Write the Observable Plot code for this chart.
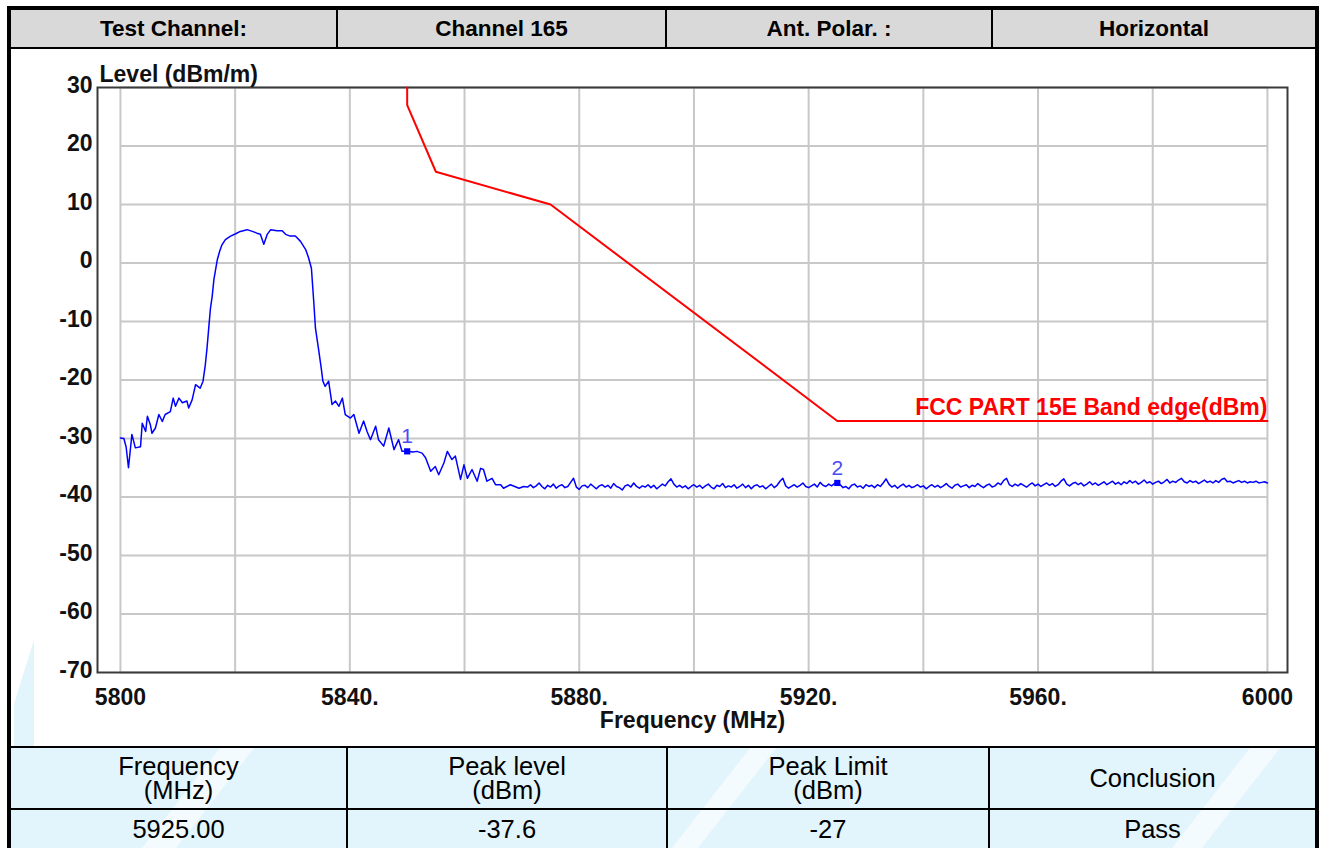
<!DOCTYPE html>
<html>
<head>
<meta charset="utf-8">
<script src="https://cdn.jsdelivr.net/npm/d3@7"></script>
<script src="https://cdn.jsdelivr.net/npm/@observablehq/plot@0.6"></script>
<style>
html,body{margin:0;padding:0;background:#fff}
body{position:relative;width:1325px;height:848px;overflow:hidden;font-family:"Liberation Sans",Arial,Helvetica,sans-serif;color:#000}
.a{position:absolute;box-sizing:border-box}
.cell{display:flex;align-items:center;justify-content:center;text-align:center;white-space:pre-line}
.hd{font-weight:bold;font-size:22.5px}
.bt{font-size:25.5px;line-height:24px}
.k{background:#000}
#chart{position:absolute;left:11px;top:49px}
#chart text{font-family:"Liberation Sans",Arial,sans-serif}
</style>
</head>
<body>
<script>
// ---------- data ----------
const headerCells = ["Test Channel:", "Channel 165", "Ant. Polar. :", "Horizontal"];
const resultHead = ["Frequency\n(MHz)", "Peak level\n(dBm)", "Peak Limit\n(dBm)", "Conclusion"];
const resultRow = ["5925.00", "-37.6", "-27", "Pass"];

const xTicks = [5800, 5840, 5880, 5920, 5960, 6000];
const xTickLabels = ["5800", "5840.", "5880.", "5920.", "5960.", "6000"];
const yTicks = [-70, -60, -50, -40, -30, -20, -10, 0, 10, 20, 30];
const yTickLabels = ["-70", "-60", "-50", "-40", "-30", "-20", "-10", "0", "10", "20", "30"];
const gridFreqs = [5800, 5820, 5840, 5860, 5880, 5900, 5920, 5940, 5960, 5980, 6000];

const limitFreq = [5850, 5850, 5855, 5875, 5925, 6000];
const limitLevel = [30, 27, 15.6, 10, -27, -27];
const limitName = "FCC PART 15E Band edge(dBm)";

// measured trace, 5800 - 5870 MHz (freq, level)
const traceHead = [
[5800.0,-29.9],[5800.6,-30.0],[5801.0,-31.5],[5801.4,-35.0],[5802.0,-29.3],[5802.6,-31.6],[5803.5,-31.4],[5803.8,-27.4],
[5804.4,-28.8],[5804.7,-26.2],[5805.2,-27.6],[5805.5,-29.1],[5806.1,-28.2],[5806.7,-25.9],[5807.3,-27.1],[5807.8,-25.9],
[5808.7,-25.4],[5809.2,-23.1],[5809.6,-24.5],[5810.2,-23.1],[5810.8,-23.9],[5811.6,-23.6],[5811.9,-24.8],[5812.5,-23.4],
[5813.1,-20.8],[5813.9,-21.4],[5814.4,-20.2],[5814.8,-17.4],[5815.1,-14.5],[5815.4,-11.1],[5815.7,-7.7],[5816.0,-5.7],
[5816.3,-2.8],[5816.6,-1.1],[5816.9,0.6],[5817.3,2.0],[5817.7,3.1],[5818.3,4.0],[5819.2,4.6],[5820.1,5.0],
[5820.9,5.4],[5822.1,5.7],[5823.0,5.4],[5823.8,5.1],[5824.4,4.9],[5825.0,3.2],[5825.6,4.9],[5826.2,5.7],
[5827.3,5.5],[5828.2,5.5],[5828.8,4.9],[5829.6,4.6],[5830.5,4.6],[5831.4,3.7],[5832.3,2.3],[5832.8,0.9],
[5833.3,-0.9],[5833.7,-6.5],[5834.0,-11.1],[5834.6,-15.1],[5835.0,-17.9],[5835.3,-20.2],[5835.7,-21.1],[5836.3,-20.2],
[5836.9,-24.2],[5837.5,-23.6],[5838.1,-24.5],[5838.7,-23.1],[5839.2,-25.9],[5840.1,-26.5],[5840.7,-25.9],[5841.6,-29.1],
[5842.4,-27.0],[5843.0,-28.8],[5843.6,-30.2],[5844.5,-27.9],[5845.0,-30.2],[5845.9,-31.3],[5846.8,-28.2],[5847.7,-31.9],
[5848.5,-30.2],[5849.1,-32.2],[5850.0,-32.2],[5851.0,-32.3],[5851.7,-32.2],[5852.6,-32.5],[5853.2,-33.3],[5854.1,-35.6],
[5854.9,-34.8],[5855.5,-36.2],[5856.4,-34.2],[5857.0,-32.2],[5857.8,-33.6],[5858.4,-33.0],[5859.3,-37.0],[5859.9,-34.5],
[5860.5,-36.8],[5861.3,-35.3],[5862.2,-37.3],[5862.8,-35.1],[5863.3,-35.3],[5863.9,-37.3],[5864.8,-36.8],[5865.4,-37.9],
[5866.3,-37.9],[5866.8,-38.5],[5868.0,-37.9],[5869.5,-38.5],[5870.3,-38.2]
];

// noise floor, 5871 - 6000 MHz, one reading every 0.5 MHz
const floorStart = 5871;
const floorStep = 0.5;
const floorLevel = [
-38.3,-37.9,-38.4,-38.1,-37.6,-38.2,-38.6,-38.0,-38.3,-37.8,-38.5,-38.1,-37.9,-38.4,-38.2,-37.5,-36.8,-38.3,-38.7,-38.1,
-38.0,-38.4,-37.8,-38.2,-38.6,-38.1,-37.9,-38.3,-38.0,-38.5,-37.7,-38.2,-38.4,-38.8,-38.1,-37.9,-38.3,-37.6,-38.2,-38.5,
-38.1,-38.3,-37.9,-38.4,-38.0,-38.6,-38.2,-37.8,-38.1,-37.4,-36.9,-37.8,-38.3,-38.0,-38.4,-38.1,-38.6,-38.2,-37.9,-38.3,
-38.0,-38.5,-38.1,-37.8,-38.3,-38.6,-38.0,-38.2,-37.7,-38.4,-38.1,-38.3,-37.9,-38.5,-38.2,-37.8,-38.4,-38.0,-38.6,-38.1,
-37.9,-38.3,-38.1,-38.6,-38.2,-37.8,-38.4,-38.0,-37.3,-36.8,-38.1,-38.5,-38.2,-37.9,-38.3,-38.0,-37.6,-38.2,-38.4,-38.1,
-37.8,-38.3,-37.5,-38.0,-38.2,-37.8,-38.1,-37.7,-37.6,-37.9,-38.4,-38.2,-38.6,-38.0,-37.8,-38.3,-38.1,-38.5,-37.9,-38.2,
-38.0,-38.4,-37.9,-38.2,-37.6,-36.9,-37.8,-38.3,-38.0,-38.5,-38.1,-37.8,-38.3,-38.0,-38.4,-38.2,-37.9,-38.3,-38.1,-38.6,
-38.2,-37.9,-38.3,-38.0,-38.4,-38.1,-37.7,-38.2,-38.5,-38.0,-37.8,-38.3,-38.1,-37.9,-38.4,-38.0,-38.2,-37.7,-38.1,-38.4,
-38.0,-37.8,-38.3,-38.1,-37.6,-37.9,-37.2,-36.8,-37.9,-38.2,-37.8,-38.1,-37.7,-38.0,-38.3,-37.9,-37.6,-38.1,-37.8,-38.2,
-37.9,-37.6,-38.0,-37.7,-38.2,-37.9,-37.3,-36.9,-37.8,-38.1,-37.7,-37.5,-37.9,-37.6,-38.1,-37.8,-37.4,-37.9,-37.6,-38.0,
-37.7,-37.4,-37.9,-37.6,-37.3,-37.8,-37.5,-37.9,-37.4,-37.7,-37.2,-37.6,-37.3,-37.8,-37.5,-37.1,-37.6,-37.4,-37.8,-37.5,
-37.3,-37.7,-37.4,-37.0,-37.6,-37.3,-37.5,-37.1,-36.8,-37.4,-37.6,-37.2,-37.5,-37.3,-37.7,-37.4,-37.1,-37.5,-37.3,-37.6,
-37.2,-37.5,-37.0,-36.8,-37.4,-37.3,-37.6,-37.4,-37.2,-37.5,-37.3,-37.6,-37.4,-37.5,-37.3,-37.6,-37.5,-37.4,-37.6
];

const markerFreq = [5850, 5925];
const markerLevel = [-32.2, -37.6];
const markerLabel = ["1", "2"];

// ---------- page chrome ----------
function box(x0, y0, x1, y1, cls, text, extra) {
  const d = document.createElement("div");
  d.className = "a " + (cls || "");
  d.style.left = x0 + "px"; d.style.top = y0 + "px";
  d.style.width = (x1 - x0) + "px"; d.style.height = (y1 - y0) + "px";
  if (text != null) d.textContent = text;
  if (extra) Object.assign(d.style, extra);
  document.body.appendChild(d);
  return d;
}

// bottom table background with light watermark
const wm = box(11, 748, 1315, 848, "", null, {background: "#e2f4fc", overflow: "hidden"});
[[170, 34], [700, 26], [1200, 30]].forEach(([l, w]) => {
  const s = document.createElement("div");
  s.className = "a";
  Object.assign(s.style, {left: l + "px", top: "-20px", width: w + "px", height: "140px", background: "#fff", opacity: "0.6", transform: "skewX(-38deg)", borderRadius: "20px"});
  wm.appendChild(s);
});
box(14, 640, 34, 746, "", null, {background: "#e2f4fc", clipPath: "polygon(100% 0, 100% 100%, 0 100%, 0 60%)"});

// header row
box(11, 10, 1315, 47, "", null, {background: "#d9d9d9"});
const hb = [[11, 336], [338, 665], [667, 991], [993, 1315]];
headerCells.forEach((t, i) => box(hb[i][0], 10, hb[i][1], 47, "cell hd", t));
[336, 665, 991].forEach(x => box(x, 10, x + 2, 47, "k"));
box(11, 47, 1315, 49, "k");

// result table
const bb = [[11, 346], [348, 666], [668, 988], [990, 1315]];
resultHead.forEach((t, i) => box(bb[i][0], 748, bb[i][1], 808, "cell bt", t));
resultRow.forEach((t, i) => box(bb[i][0], 810, bb[i][1], 848, "cell bt", t));
box(11, 746, 1315, 748, "k");
box(11, 808, 1315, 810, "k");
[346, 666, 988].forEach(x => box(x, 746, x + 2, 848, "k"));

// outer frame
box(7, 6, 11, 848, "k");
box(1315, 6, 1319, 848, "k");
box(7, 6, 1319, 10, "k");

// ---------- chart ----------
const trace = traceHead.map(([f, v]) => ({f, v}))
  .concat(floorLevel.map((v, i) => ({f: floorStart + i * floorStep, v})));
const limit = limitFreq.map((f, i) => ({f, v: limitLevel[i]}));
const markers = markerFreq.map((f, i) => ({f, v: markerLevel[i], t: markerLabel[i]}));

const chart = Plot.plot({
  width: 1304,
  height: 697,
  marginLeft: 86,
  marginRight: 28,
  marginTop: 38,
  marginBottom: 74,
  x: {domain: [5796, 6003.5]},
  y: {domain: [-70, 30]},
  style: {background: "transparent", overflow: "visible", fontFamily: "Liberation Sans, Arial, sans-serif"},
  marks: [
    Plot.ruleX(gridFreqs, {y1: -70, y2: 30, stroke: "#c8c8c8", strokeWidth: 2}),
    Plot.ruleY(yTicks, {x1: 5800, x2: 6000, stroke: "#c8c8c8", strokeWidth: 2}),
    Plot.frame({stroke: "#3a3a3a", strokeWidth: 2}),
    Plot.axisX(xTicks, {tickSize: 0, tickPadding: 16, fontSize: 23, fontWeight: "bold", fill: "#111",
      tickFormat: d => xTickLabels[xTicks.indexOf(d)], label: null}),
    Plot.axisY(yTicks, {tickSize: 0, tickPadding: 5, dy: -2, fontSize: 23, fontWeight: "bold", fill: "#111",
      tickFormat: d => yTickLabels[yTicks.indexOf(d)], label: null}),
    Plot.line(limit, {x: "f", y: "v", stroke: "#ff0000", strokeWidth: 2}),
    Plot.line(trace, {x: "f", y: "v", stroke: "#0000ff", strokeWidth: 1.5}),
    Plot.dot(markers, {x: "f", y: "v", r: 3.5, fill: "#0000ff", symbol: "square"}),
    Plot.text(markers, {x: "f", y: "v", text: "t", dy: -15, fill: "#4b4bf5", fontSize: 21}),
    Plot.text([limitName], {x: 6000, y: -27, textAnchor: "end", lineAnchor: "bottom", dy: -6, fill: "#ff0000", fontSize: 23, fontWeight: "bold"}),
    Plot.text(["Level (dBm/m)"], {frameAnchor: "top-left", textAnchor: "start", lineAnchor: "bottom", dx: 2, dy: -6, fontSize: 23, fontWeight: "bold", fill: "#111"}),
    Plot.text(["Frequency (MHz)"], {frameAnchor: "bottom", lineAnchor: "bottom", dy: 55, fontSize: 23, fontWeight: "bold", fill: "#111"})
  ]
});
chart.id = "chart";
document.body.appendChild(chart);
</script>
</body>
</html>
